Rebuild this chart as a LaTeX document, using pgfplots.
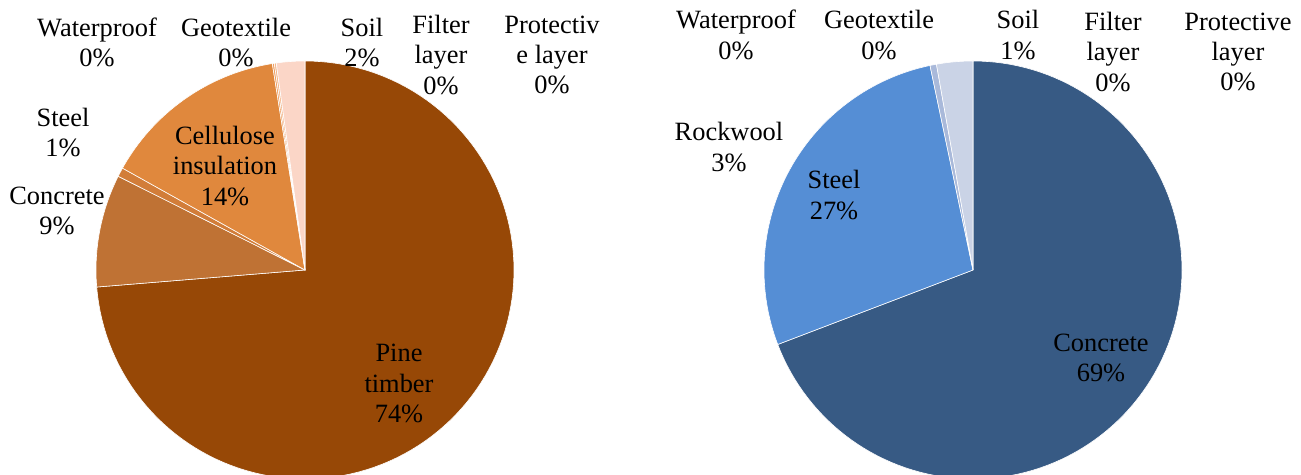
\documentclass[border=0pt]{standalone}
\usepackage{pgfplots}
\pgfplotsset{compat=1.18}
\usepackage{fontspec}
\setmainfont{Liberation Serif}

% slice colours
\definecolor{pine}{HTML}{974806}
\definecolor{concreteL}{HTML}{BF7234}
\definecolor{steelL}{HTML}{D27D39}
\definecolor{cellulose}{HTML}{E0883D}
\definecolor{waterL}{HTML}{EE9F62}
\definecolor{geoL}{HTML}{F3B68A}
\definecolor{soilL}{HTML}{FBD6C7}
\definecolor{concreteR}{HTML}{375A84}
\definecolor{steelR}{HTML}{558ED5}
\definecolor{soilR}{HTML}{A9B9DA}
\definecolor{rockwool}{HTML}{CAD3E6}

% one pie slice: #1 = share in percent, #2 = colour; slices run clockwise from 12 o'clock
\newcommand\slice[2]{%
  \pgfmathsetmacro\angA{90-3.6*(\cum+#1)}%
  \pgfmathsetmacro\angB{90-3.6*\cum}%
  \edef\doslice{\noexpand\addplot[fill=#2, draw=white, line width=0.3pt,
      domain=\angA:\angB, samples=120] ({cos(x)},{sin(x)}) -- (axis cs:0,0) -- cycle;}%
  \doslice
  \pgfmathsetmacro\tmpcum{\cum+#1}%
  \xdef\cum{\tmpcum}%
}

\pgfplotsset{pie/.style={hide axis, scale only axis, width=209pt, height=209pt,
    xmin=-1, xmax=1, ymin=-1, ymax=1, clip=false, anchor=center}}

\tikzset{lbl/.style={align=center, inner sep=0pt,
    font=\fontsize{13.2}{15.2}\selectfont}}

\begin{document}
\begin{tikzpicture}
\useasboundingbox (0,0) rectangle (650.5pt,237.5pt);

% ---- timber building ----
\begin{axis}[pie, at={(152.5pt,102.5pt)}]
  \gdef\cum{0}
  \slice{73.7}{pine}
  \slice{8.7}{concreteL}
  \slice{0.7}{steelL}
  \slice{14.4}{cellulose}
  \slice{0.15}{waterL}
  \slice{0.15}{geoL}
  \slice{2.2}{soilL}
\end{axis}

% ---- concrete building ----
\begin{axis}[pie, at={(486.5pt,102.5pt)}]
  \gdef\cum{0}
  \slice{69.2}{concreteR}
  \slice{27.5}{steelR}
  \slice{0.5}{soilR}
  \slice{2.8}{rockwool}
\end{axis}

% labels, timber building
\node[lbl] at (48.5pt,216.25pt) {Waterproof\\0\%};
\node[lbl] at (118pt,216.25pt) {Geotextile\\0\%};
\node[lbl] at (181pt,216.25pt) {Soil\\2\%};
\node[lbl] at (220.5pt,210pt) {Filter\\layer\\0\%};
\node[lbl] at (276pt,210pt) {Protectiv\\e layer\\0\%};
\node[lbl] at (31.5pt,171.25pt) {Steel\\1\%};
\node[lbl] at (28.5pt,132pt) {Concrete\\9\%};
\node[lbl] at (112.5pt,154.65pt) {Cellulose\\insulation\\14\%};
\node[lbl] at (199.5pt,45.65pt) {Pine\\timber\\74\%};

% labels, concrete building
\node[lbl] at (368pt,220pt) {Waterproof\\0\%};
\node[lbl] at (439.5pt,220pt) {Geotextile\\0\%};
\node[lbl] at (509pt,220pt) {Soil\\1\%};
\node[lbl] at (556.5pt,211.5pt) {Filter\\layer\\0\%};
\node[lbl] at (619pt,211.5pt) {Protective\\layer\\0\%};
\node[lbl] at (364.5pt,164pt) {Rockwool\\3\%};
\node[lbl] at (417pt,140pt) {Steel\\27\%};
\node[lbl] at (550.5pt,58.5pt) {Concrete\\69\%};
\end{tikzpicture}
\end{document}
